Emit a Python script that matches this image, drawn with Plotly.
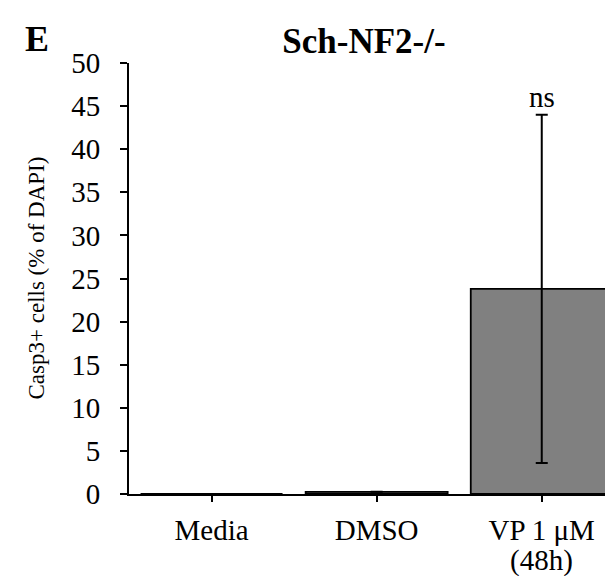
import plotly.graph_objects as go

categories = ["Media", "DMSO", "VP 1 μM"]
sub_labels = ["", "", "(48h)"]
values = [0.0, 0.25, 23.8]
errors = [0, 0, 20.2]
y_ticks = [0, 5, 10, 15, 20, 25, 30, 35, 40, 45, 50]
title_text = "Sch-NF2-/-"
y_title = "Casp3+ cells (% of DAPI)"
panel_label = "E"
sig_label = "ns"

FONT = "Liberation Serif, Times New Roman, serif"

# plot-area geometry (pixels)
L, T, PW, PH = 121, 55, 492, 431

fig = go.Figure()
fig.add_trace(go.Bar(
    x=categories, y=values,
    marker=dict(color="#808080", line=dict(color="black", width=1.8)),
    error_y=dict(type="data", array=errors, visible=True, color="black",
                 thickness=2, width=6),
    width=0.86,
))

# significance label above the error bar
fig.add_annotation(x=categories[2], y=values[2] + errors[2], yref="y", xref="x",
                   text=sig_label, showarrow=False, yanchor="bottom", yshift=0,
                   font=dict(family=FONT, size=29, color="black"))
# second line of category labels
for cat, sub in zip(categories, sub_labels):
    if sub:
        fig.add_annotation(x=cat, xref="x", y=(T + PH - 552) / PH, yref="paper",
                           text=sub, showarrow=False, xanchor="center",
                           yanchor="middle",
                           font=dict(family=FONT, size=29, color="black"))
# y-axis title
fig.add_annotation(x=(28 - L) / PW, y=0.5, xref="paper", yref="paper",
                   text=y_title, textangle=-90, showarrow=False,
                   xanchor="center", yanchor="middle",
                   font=dict(family=FONT, size=23, color="black"))
# panel letter
fig.add_annotation(x=(29 - L) / PW, y=(T + PH - 31) / PH, xref="paper", yref="paper",
                   text="<b>" + panel_label + "</b>", showarrow=False,
                   xanchor="center", yanchor="middle",
                   font=dict(family=FONT, size=36, color="black"))

fig.update_layout(
    width=613, height=576,
    margin=dict(l=L, r=0, t=T, b=576 - T - PH),
    paper_bgcolor="white", plot_bgcolor="white",
    showlegend=False,
    font=dict(family=FONT, size=29, color="black"),
    title=dict(text="<b>" + title_text + "</b>", x=(356 - L) / PW, xref="paper",
               xanchor="center", y=1 - 33 / 576, yanchor="middle",
               font=dict(family=FONT, size=35, color="black")),
    xaxis=dict(range=[-0.5, 2.48], showline=True, linecolor="black", linewidth=2,
               ticks="outside", tickcolor="black", ticklen=6, tickwidth=2,
               showgrid=False, ticklabelstandoff=3,
               tickfont=dict(family=FONT, size=29)),
    yaxis=dict(range=[0, 50], tickvals=y_ticks, showline=True, linecolor="black",
               linewidth=2, ticks="outside", tickcolor="black", ticklen=7,
               tickwidth=2, showgrid=False, zeroline=False, ticklabelstandoff=14,
               tickfont=dict(family=FONT, size=29)),
)

fig.write_html("out.html")
